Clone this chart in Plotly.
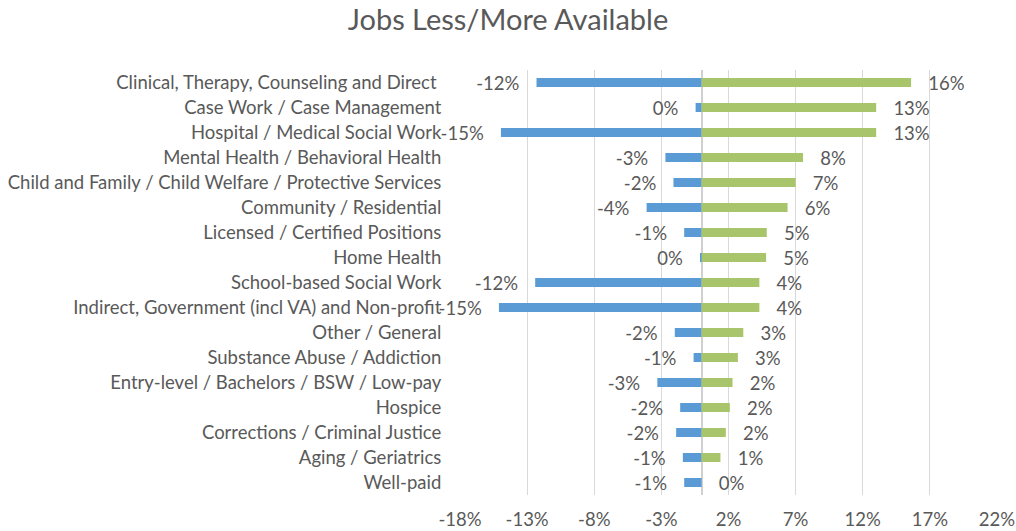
import plotly.graph_objects as go

categories = [
    "Clinical, Therapy, Counseling and Direct ",
    "Case Work / Case Management",
    "Hospital / Medical Social Work",
    "Mental Health / Behavioral Health",
    "Child and Family / Child Welfare / Protective Services",
    "Community / Residential",
    "Licensed / Certified Positions",
    "Home Health",
    "School-based Social Work",
    "Indirect, Government (incl VA) and Non-profit",
    "Other / General",
    "Substance Abuse / Addiction",
    "Entry-level / Bachelors / BSW / Low-pay",
    "Hospice",
    "Corrections / Criminal Justice",
    "Aging / Geriatrics",
    "Well-paid",
]

less_available = [-0.123, -0.0045, -0.1495, -0.027, -0.021, -0.041, -0.013, -0.001,
                  -0.124, -0.151, -0.020, -0.006, -0.033, -0.016, -0.019, -0.014, -0.013]
more_available = [0.156, 0.130, 0.130, 0.0755, 0.070, 0.064, 0.0485, 0.048,
                  0.043, 0.043, 0.031, 0.027, 0.023, 0.021, 0.018, 0.014, 0.0]

tick_values = [-0.18, -0.13, -0.08, -0.03, 0.02, 0.07, 0.12, 0.17, 0.22]
tick_labels = ["-18%", "-13%", "-8%", "-3%", "2%", "7%", "12%", "17%", "22%"]

FONT = "Lato"
TXT = "#595959"
NB = "\u00a0"
FS = 18.5


def pct(v):
    return f"{int(round(v * 100))}%"


less_text = [pct(v) + NB * 3 for v in less_available]
more_text = [NB * 3 + pct(v) for v in more_available]

fig = go.Figure()
fig.add_trace(go.Bar(
    y=categories, x=less_available, orientation="h", name="Less available",
    marker=dict(color="#5B9BD5", line=dict(width=0)), width=0.36,
    text=less_text, textposition="outside", cliponaxis=False,
    constraintext="none", textfont=dict(family=FONT, size=FS, color=TXT),
))
fig.add_trace(go.Bar(
    y=categories, x=more_available, orientation="h", name="More available",
    marker=dict(color="#A9C56B", line=dict(width=0)), width=0.36,
    text=more_text, textposition="outside", cliponaxis=False,
    constraintext="none", textfont=dict(family=FONT, size=FS, color=TXT),
))

fig.update_layout(
    width=1016, height=531,
    margin=dict(l=460, r=19, t=70, b=36, autoexpand=False),
    paper_bgcolor="white", plot_bgcolor="white",
    barmode="overlay", showlegend=False,
    font=dict(family=FONT, color=TXT),
    title=dict(text="Jobs Less/More Available", x=0.5, xanchor="center",
               y=1 - 20 / 531, yanchor="middle",
               font=dict(family=FONT, size=29, color=TXT)),
    xaxis=dict(range=[-0.18, 0.22], tickvals=tick_values, ticktext=tick_labels,
               automargin=False,
               showgrid=True, gridcolor="#D9D9D9", gridwidth=1,
               zeroline=True, zerolinecolor="#D0D0D0", zerolinewidth=1.5,
               showline=False, ticks="outside", ticklen=8, tickcolor="rgba(0,0,0,0)",
               tickfont=dict(family=FONT, size=FS, color=TXT)),
    yaxis=dict(categoryorder="array", categoryarray=categories,
               automargin=False,
               range=[16.5, -0.5], showgrid=False, zeroline=False, showline=False,
               ticks="outside", ticklen=14, tickcolor="rgba(0,0,0,0)",
               tickfont=dict(family=FONT, size=FS, color=TXT)),
)

fig.write_html(
    "out.html",
    config={"displayModeBar": False},
    post_script="document.body.style.margin='0';document.body.style.overflow='hidden';",
)
